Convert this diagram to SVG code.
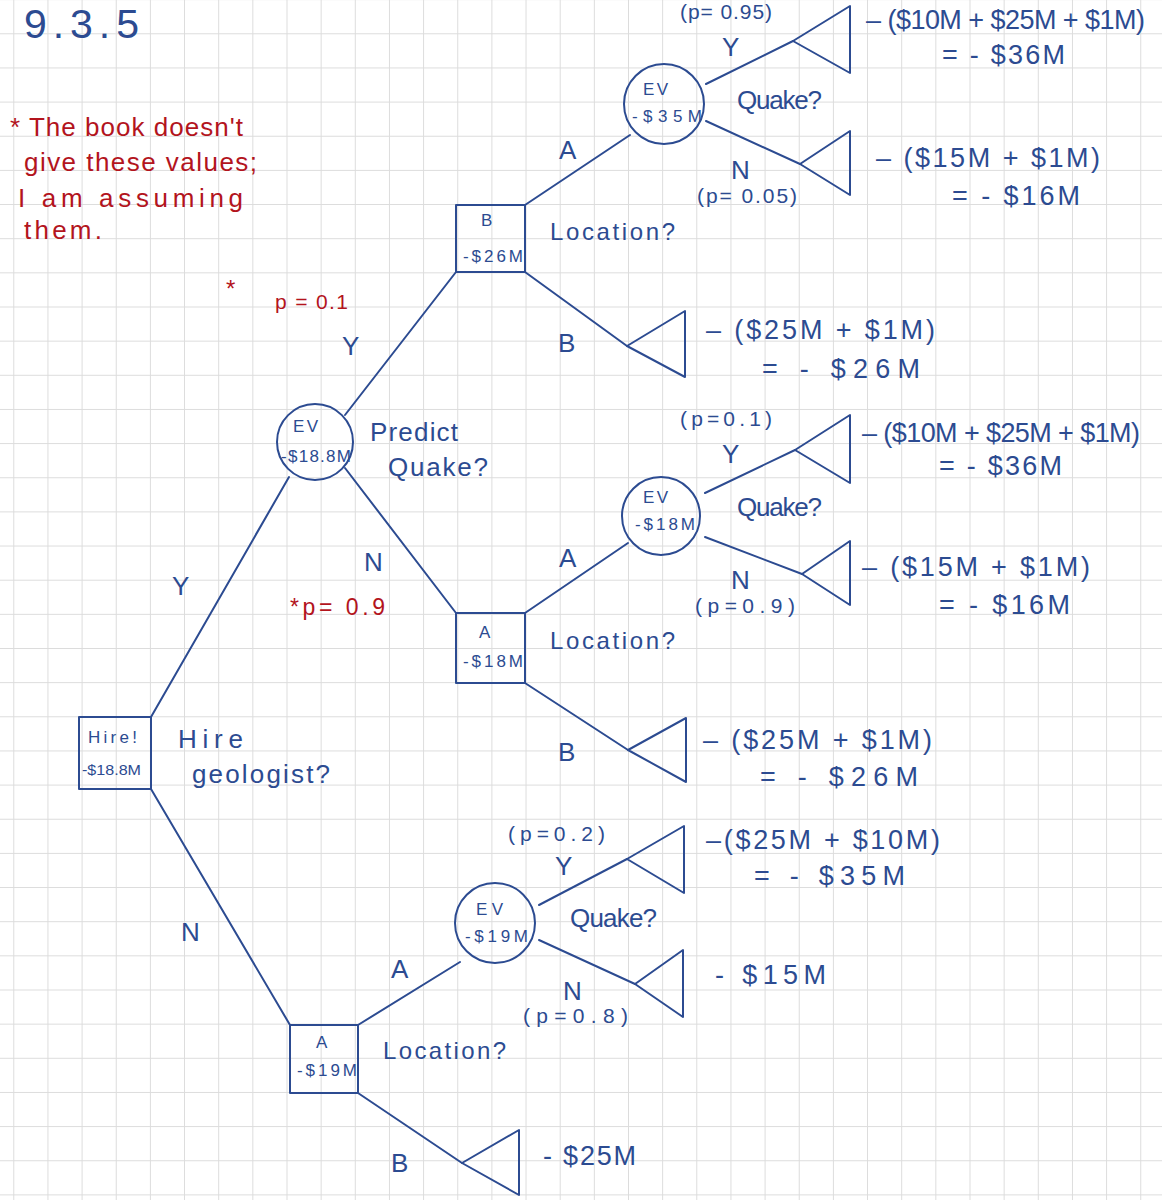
<svg xmlns="http://www.w3.org/2000/svg" width="1162" height="1200" viewBox="0 0 1162 1200">
<defs>
<pattern id="grid" x="13.3" y="33.3" width="34.15" height="34.15" patternUnits="userSpaceOnUse">
<path d="M0 0.5 H34.15 M0.5 0 V34.15" fill="none" stroke="#dcdcdc" stroke-width="1"/>
</pattern>
<style>
.ink{fill:none;stroke:#2c4b91;stroke-width:2;stroke-linejoin:round;stroke-linecap:round}
.t{fill:#2c4b91;font-family:"Liberation Sans","Noto Sans",sans-serif}
.r{fill:#b3141d;font-family:"Liberation Sans","Noto Sans",sans-serif}
.n{font-size:17px}
.lab{font-size:26px}
.val{font-size:27px}
.pp{font-size:21px}
</style>
</defs>
<rect width="1162" height="1200" fill="#ffffff"/>
<rect width="1162" height="1200" fill="url(#grid)"/>

<g id="title">
<text class="t" x="24" y="38" font-size="41" textLength="115" lengthAdjust="spacing">9.3.5</text>
</g>
<g id="note">
<text class="r" x="10" y="136" font-size="26" textLength="233" lengthAdjust="spacing">* The book doesn't</text>
<text class="r" x="24" y="171" font-size="26" textLength="233" lengthAdjust="spacing">give these values;</text>
<text class="r" x="18" y="207" font-size="26" textLength="225" lengthAdjust="spacing">I am assuming</text>
<text class="r" x="24" y="239" font-size="26" textLength="78" lengthAdjust="spacing">them.</text>
</g>

<g id="connectors">
<line class="ink" x1="151" y1="717" x2="289" y2="477"/>
<line class="ink" x1="151" y1="789" x2="290" y2="1025"/>
<line class="ink" x1="345" y1="415" x2="456" y2="272"/>
<line class="ink" x1="345" y1="468" x2="456" y2="613"/>
<line class="ink" x1="525" y1="205" x2="630" y2="135"/>
<line class="ink" x1="525" y1="272" x2="627" y2="346"/>
<line class="ink" x1="706" y1="84" x2="793" y2="41"/>
<line class="ink" x1="706" y1="121" x2="800" y2="164"/>
<line class="ink" x1="525" y1="613" x2="628" y2="543"/>
<line class="ink" x1="525" y1="683" x2="628" y2="750"/>
<line class="ink" x1="705" y1="493" x2="795" y2="450"/>
<line class="ink" x1="705" y1="537" x2="802" y2="574"/>
<line class="ink" x1="358" y1="1025" x2="460" y2="962"/>
<line class="ink" x1="358" y1="1093" x2="462" y2="1163"/>
<line class="ink" x1="539" y1="905" x2="627" y2="859"/>
<line class="ink" x1="539" y1="940" x2="635" y2="984"/>
</g>

<g id="edge-labels">
<text class="t lab" x="172" y="595">Y</text>
<text class="t lab" x="181" y="941">N</text>
<text class="t lab" x="178" y="748" textLength="65" lengthAdjust="spacing">Hire</text>
<text class="t lab" x="192" y="783" textLength="138" lengthAdjust="spacing">geologist?</text>
<text class="t lab" x="342" y="355">Y</text>
<text class="t lab" x="364" y="571">N</text>
<text class="t lab" x="370" y="441" textLength="88" lengthAdjust="spacing">Predict</text>
<text class="t lab" x="388" y="476" textLength="100" lengthAdjust="spacing">Quake?</text>
<text class="r" x="226" y="297" font-size="24">*</text>
<text class="r" x="275" y="309" font-size="21" textLength="73" lengthAdjust="spacing">p = 0.1</text>
<text class="r" x="290" y="615" font-size="23" textLength="95" lengthAdjust="spacing">*p= 0.9</text>
<text class="t lab" x="559" y="159">A</text>
<text class="t lab" x="558" y="352">B</text>
<text class="t" x="550" y="240" font-size="24" textLength="125" lengthAdjust="spacing">Location?</text>
<text class="t lab" x="559" y="567">A</text>
<text class="t lab" x="558" y="761">B</text>
<text class="t" x="550" y="649" font-size="24" textLength="125" lengthAdjust="spacing">Location?</text>
<text class="t lab" x="391" y="978">A</text>
<text class="t lab" x="391" y="1172">B</text>
<text class="t" x="383" y="1059" font-size="24" textLength="123" lengthAdjust="spacing">Location?</text>
<text class="t lab" x="737" y="109" textLength="85" lengthAdjust="spacing">Quake?</text>
<text class="t lab" x="722" y="56">Y</text>
<text class="t pp" x="680" y="19" textLength="92" lengthAdjust="spacing">(p= 0.95)</text>
<text class="t lab" x="731" y="179">N</text>
<text class="t pp" x="697" y="203" textLength="100" lengthAdjust="spacing">(p= 0.05)</text>
<text class="t lab" x="737" y="516" textLength="85" lengthAdjust="spacing">Quake?</text>
<text class="t lab" x="722" y="463">Y</text>
<text class="t pp" x="680" y="426" textLength="92" lengthAdjust="spacing">(p=0.1)</text>
<text class="t lab" x="731" y="589">N</text>
<text class="t pp" x="695" y="613" textLength="100" lengthAdjust="spacing">(p=0.9)</text>
<text class="t lab" x="570" y="927" textLength="87" lengthAdjust="spacing">Quake?</text>
<text class="t lab" x="555" y="875">Y</text>
<text class="t pp" x="508" y="841" textLength="97" lengthAdjust="spacing">(p=0.2)</text>
<text class="t lab" x="563" y="1000">N</text>
<text class="t pp" x="523" y="1023" textLength="105" lengthAdjust="spacing">(p=0.8)</text>
</g>

<g id="root">
<rect class="ink" x="79" y="717" width="72" height="72"/>
<text class="t n" x="88" y="743" textLength="49" lengthAdjust="spacing">Hire!</text>
<text class="t" x="82" y="775" font-size="15" textLength="59" lengthAdjust="spacingAndGlyphs">-$18.8M</text>
</g>
<g id="ev-predict">
<circle class="ink" cx="315" cy="442" r="38"/>
<text class="t n" x="293" y="432" textLength="25" lengthAdjust="spacing">EV</text>
<text class="t n" x="281" y="462" textLength="70" lengthAdjust="spacing">-$18.8M</text>
</g>
<g id="loc-B">
<rect class="ink" x="456" y="205" width="69" height="67"/>
<text class="t n" x="481" y="226">B</text>
<text class="t n" x="463" y="262" textLength="60" lengthAdjust="spacing">-$26M</text>
</g>
<g id="ev-quake-1">
<circle class="ink" cx="664" cy="104" r="40"/>
<text class="t n" x="643" y="95" textLength="25" lengthAdjust="spacing">EV</text>
<text class="t n" x="632" y="122" textLength="70" lengthAdjust="spacing">-$35M</text>
</g>
<g id="term-1">
<polygon class="ink" points="793,41 850,6 850,73"/>
<text class="t val" x="866" y="29" textLength="279" lengthAdjust="spacing">– ($10M + $25M + $1M)</text>
<text class="t val" x="942" y="64" textLength="123" lengthAdjust="spacing">=  - $36M</text>
</g>
<g id="term-2">
<polygon class="ink" points="800,164 850,131 850,195"/>
<text class="t val" x="876" y="167" textLength="224" lengthAdjust="spacing">– ($15M + $1M)</text>
<text class="t val" x="952" y="205" textLength="128" lengthAdjust="spacing">=  - $16M</text>
</g>
<g id="term-3">
<polygon class="ink" points="627,346 685,311 685,377"/>
<text class="t val" x="706" y="339" textLength="229" lengthAdjust="spacing">– ($25M + $1M)</text>
<text class="t val" x="762" y="378" textLength="158" lengthAdjust="spacing">=   - $26M</text>
</g>
<g id="loc-A">
<rect class="ink" x="456" y="613" width="69" height="70"/>
<text class="t n" x="479" y="638">A</text>
<text class="t n" x="463" y="667" textLength="60" lengthAdjust="spacing">-$18M</text>
</g>
<g id="ev-quake-2">
<circle class="ink" cx="661" cy="516" r="39"/>
<text class="t n" x="643" y="503" textLength="25" lengthAdjust="spacing">EV</text>
<text class="t n" x="635" y="530" textLength="60" lengthAdjust="spacing">-$18M</text>
</g>
<g id="term-4">
<polygon class="ink" points="795,450 850,415 850,483"/>
<text class="t val" x="862" y="442" textLength="278" lengthAdjust="spacing">– ($10M + $25M + $1M)</text>
<text class="t val" x="939" y="475" textLength="123" lengthAdjust="spacing">=  - $36M</text>
</g>
<g id="term-5">
<polygon class="ink" points="802,574 850,541 850,605"/>
<text class="t val" x="862" y="576" textLength="228" lengthAdjust="spacing">– ($15M + $1M)</text>
<text class="t val" x="939" y="614" textLength="131" lengthAdjust="spacing">=  - $16M</text>
</g>
<g id="term-6">
<polygon class="ink" points="628,750 686,718 686,782"/>
<text class="t val" x="703" y="749" textLength="229" lengthAdjust="spacing">– ($25M + $1M)</text>
<text class="t val" x="760" y="786" textLength="158" lengthAdjust="spacing">=   - $26M</text>
</g>
<g id="loc-A-nohire">
<rect class="ink" x="290" y="1025" width="68" height="68"/>
<text class="t n" x="316" y="1048">A</text>
<text class="t n" x="297" y="1076" textLength="60" lengthAdjust="spacing">-$19M</text>
</g>
<g id="ev-quake-3">
<circle class="ink" cx="495" cy="923" r="40"/>
<text class="t n" x="476" y="915" textLength="27" lengthAdjust="spacing">EV</text>
<text class="t n" x="465" y="942" textLength="63" lengthAdjust="spacing">-$19M</text>
</g>
<g id="term-7">
<polygon class="ink" points="627,859 684,826 684,893"/>
<text class="t val" x="706" y="849" textLength="234" lengthAdjust="spacing">–($25M + $10M)</text>
<text class="t val" x="754" y="885" textLength="151" lengthAdjust="spacing">=  - $35M</text>
</g>
<g id="term-8">
<polygon class="ink" points="635,984 683,950 683,1017"/>
<text class="t val" x="715" y="984" textLength="111" lengthAdjust="spacing">- $15M</text>
</g>
<g id="term-9">
<polygon class="ink" points="462,1163 519,1130 519,1195"/>
<text class="t val" x="543" y="1165" textLength="93" lengthAdjust="spacing">- $25M</text>
</g>
</svg>
